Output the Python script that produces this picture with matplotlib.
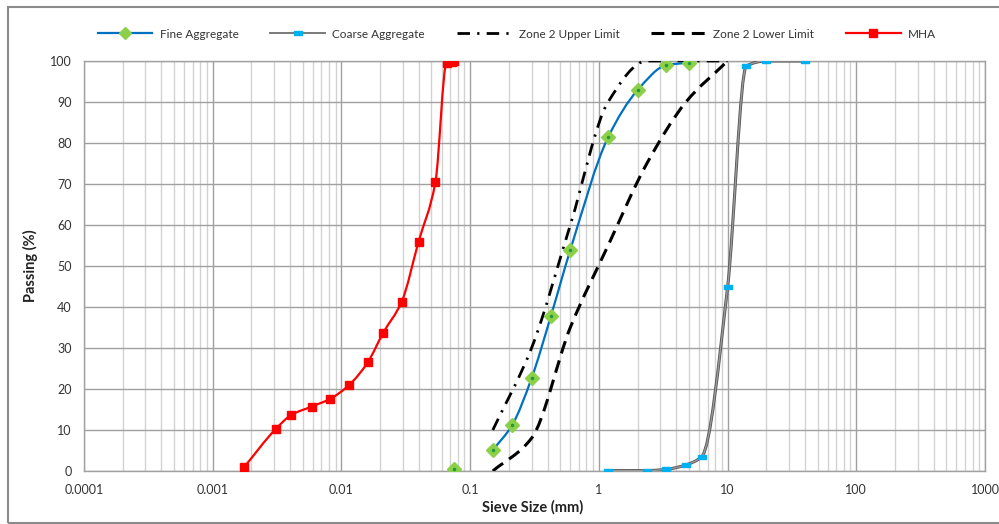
import numpy as np
import matplotlib
matplotlib.use('Agg')
import matplotlib.pyplot as plt
from matplotlib.path import Path
from matplotlib.patches import PathPatch, Rectangle
from matplotlib.lines import Line2D
from matplotlib.ticker import LogLocator, FixedLocator, FixedFormatter, NullFormatter

plt.rcParams['font.family'] = ['Lato', 'DejaVu Sans']

# sieve sizes (mm) and percent passing
fine_size = [0.15, 0.212, 0.3, 0.425, 0.6, 1.18, 2.0, 3.35, 5.0]
fine_pass = [5.1, 11.2, 22.6, 37.9, 53.9, 81.4, 92.9, 99.0, 99.6]
fine_pan_size = [0.075]
fine_pan_pass = [0.5]

coarse_size = [1.18, 2.36, 3.35, 4.75, 6.3, 10, 14, 20, 40]
coarse_pass = [0.1, 0.1, 0.4, 1.5, 3.5, 44.8, 98.8, 100, 100]

upper_size = [0.15, 0.3, 0.6, 1.18, 2.36, 4.75, 10]
upper_pass = [10, 30, 60, 90, 100, 100, 100]

lower_size = [0.15, 0.3, 0.6, 1.18, 2.36, 4.75, 10]
lower_pass = [0, 8, 35, 55, 75, 90, 100]

mha_size = [0.00175, 0.00308, 0.00409, 0.00586, 0.00817, 0.0115, 0.016,
            0.0211, 0.0294, 0.0397, 0.0538, 0.0656, 0.0717, 0.075]
mha_pass = [0.9, 10.2, 13.7, 15.7, 17.6, 21.0, 26.5, 33.7, 41.3, 55.9,
            70.6, 99.6, 99.8, 100]

x_ticks = [0.0001, 0.001, 0.01, 0.1, 1, 10, 100, 1000]
x_tick_labels = ['0.0001', '0.001', '0.01', '0.1', '1', '10', '100', '1000']


def smooth_path(xs, ys):
    # smoothed line through the points: monotone hermite -> bezier, in log-x space
    lx = np.log10(np.asarray(xs, dtype=float))
    y = np.asarray(ys, dtype=float)
    n = len(lx)
    h = np.diff(lx)
    d = np.diff(y) / h
    m = np.zeros(n)
    m[0], m[-1] = d[0], d[-1]
    for k in range(1, n - 1):
        if d[k - 1] * d[k] <= 0:
            m[k] = 0
        else:
            w1 = 2 * h[k] + h[k - 1]
            w2 = h[k] + 2 * h[k - 1]
            m[k] = (w1 + w2) / (w1 / d[k - 1] + w2 / d[k])
    verts = [(lx[0], y[0])]
    codes = [Path.MOVETO]
    for i in range(n - 1):
        c1 = (lx[i] + h[i] / 3, y[i] + m[i] * h[i] / 3)
        c2 = (lx[i + 1] - h[i] / 3, y[i + 1] - m[i + 1] * h[i] / 3)
        verts += [c1, c2, (lx[i + 1], y[i + 1])]
        codes += [Path.CURVE4] * 3
    verts = [(10 ** vx, vy) for vx, vy in verts]
    return Path(verts, codes)


fig = plt.figure(figsize=(9.99, 5.24), dpi=100)
fig.subplots_adjust(left=84 / 999, right=985 / 999, top=1 - 61 / 524, bottom=1 - 471 / 524)
ax = fig.add_subplot(111)
ax.set_xscale('log')
ax.set_xlim(0.0001, 1000)
ax.set_ylim(0, 100)

blue = '#0070C0'
green = '#8CD04A'
grey = '#7a7a7a'
cyan = '#00B0F0'
red = '#FF0000'

dashdot = (0, (4.5, 2.6, 0.8, 2.6))
dashed = (0, (4.2, 2.4))

ax.add_patch(PathPatch(smooth_path(upper_size, upper_pass), fill=False,
                       edgecolor='black', lw=2.0, linestyle=dashdot, zorder=3))
ax.add_patch(PathPatch(smooth_path(lower_size, lower_pass), fill=False,
                       edgecolor='black', lw=2.2, linestyle=dashed, zorder=3))
ax.add_patch(PathPatch(smooth_path(coarse_size, coarse_pass), fill=False,
                       edgecolor='#555555', lw=2.2, zorder=4))
ax.add_patch(PathPatch(smooth_path(coarse_size, coarse_pass), fill=False,
                       edgecolor='#9a9a9a', lw=1.0, zorder=4))
ax.add_patch(PathPatch(smooth_path(fine_size, fine_pass), fill=False,
                       edgecolor=blue, lw=1.6, zorder=4))
ax.add_patch(PathPatch(smooth_path(mha_size, mha_pass), fill=False,
                       edgecolor=red, lw=1.6, zorder=4))

dash_marker = [(-1, -0.45), (1, -0.45), (1, 0.45), (-1, 0.45), (-1, -0.45)]

ax.plot(coarse_size, coarse_pass, ls='none', marker=dash_marker, ms=6,
        color=cyan, mec=cyan, zorder=5)
ax.plot(fine_size + fine_pan_size, fine_pass + fine_pan_pass, ls='none', marker='D',
        ms=7, color=green, mec=green, zorder=5)
ax.plot(fine_size + fine_pan_size, fine_pass + fine_pan_pass, ls='none', marker='o',
        ms=1.5, color='#1e9a3a', mec='#1e9a3a', zorder=6)
ax.plot(mha_size, mha_pass, ls='none', marker='s', ms=5.5, color=red, mec=red, zorder=5)

# axes styling
ax.xaxis.set_major_locator(FixedLocator(x_ticks))
ax.xaxis.set_major_formatter(FixedFormatter(x_tick_labels))
ax.xaxis.set_minor_locator(LogLocator(base=10, subs=np.arange(2, 10), numticks=20))
ax.xaxis.set_minor_formatter(NullFormatter())
ax.set_yticks(np.arange(0, 101, 10))

ax.grid(True, which='major', axis='both', color='#a0a0a0', lw=1.0, zorder=0)
ax.grid(True, which='minor', axis='x', color='#d2d2d2', lw=1.0, zorder=0)
ax.set_axisbelow(True)

for side in ['left', 'bottom', 'right', 'top']:
    ax.spines[side].set_color('#a0a0a0')
    ax.spines[side].set_linewidth(1.0)

ax.tick_params(axis='both', which='both', length=0, labelsize=9, labelcolor='#333333')
ax.tick_params(axis='y', pad=9)
ax.tick_params(axis='x', pad=9)

ax.set_xlabel('Sieve Size (mm)', fontsize=10.5, fontweight='bold', color='#222222')
ax.set_ylabel('Passing (%)', fontsize=10.5, fontweight='bold', color='#222222')
ax.xaxis.set_label_coords((533 - 84) / 901, (471 - 500) / 410)
ax.yaxis.set_label_coords((38 - 84) / 901, 0.5)

handles = [
    Line2D([], [], color=blue, lw=1.6, marker='D', ms=6, mfc=green, mec=green),
    Line2D([], [], color=grey, lw=1.4, marker=dash_marker, ms=6, mfc=cyan, mec=cyan),
    Line2D([], [], color='black', lw=2.0, linestyle=dashdot),
    Line2D([], [], color='black', lw=2.2, linestyle=dashed),
    Line2D([], [], color=red, lw=1.6, marker='s', ms=5.5, mfc=red, mec=red),
]
labels = ['Fine Aggregate', 'Coarse Aggregate', 'Zone 2 Upper Limit',
          'Zone 2 Lower Limit', 'MHA']
fig.legend(handles, labels, loc='center', bbox_to_anchor=(517 / 999, 1 - 34 / 524),
           ncol=5, frameon=False, fontsize=8.5, handlelength=4.6,
           columnspacing=2.7, handletextpad=0.65, labelcolor='#333333')

# outer chart border
fig.patches.append(Rectangle((8 / 999, 1 / 524), 1.1, 516 / 524, transform=fig.transFigure,
                             fill=False, edgecolor='#8a8a8a', lw=1.5))

fig.savefig('out.png', dpi=100)
